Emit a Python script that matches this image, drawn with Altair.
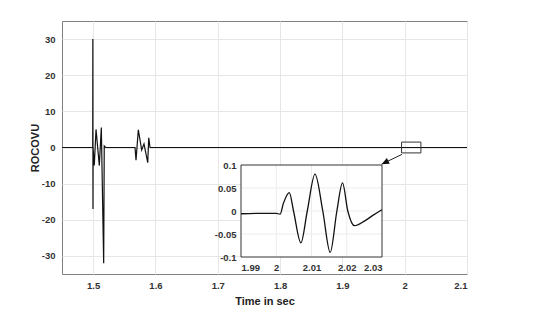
import altair as alt
import pandas as pd

# ---- main signal (ROCOVU vs time) ----
t_main = [1.45, 1.4993, 1.4995, 1.4997, 1.4999, 1.5018, 1.5046, 1.5099, 1.5131, 1.5169, 1.5178,
          1.5200, 1.5672, 1.5688, 1.5725, 1.5779, 1.5816, 1.5876, 1.5892, 1.5913, 2.10]
v_main = [0, 0, 30, -17, 0, -5, 5, -5, 5.5, -32, 0.4,
          0, 0, -3.5, 4.9, -0.7, 1.0, -4.2, 2.7, 0, 0]

x_ticks = [1.5, 1.6, 1.7, 1.8, 1.9, 2.0, 2.1]
y_ticks = [-30, -20, -10, 0, 10, 20, 30]

# zoom box and arrow annotation (main data coordinates)
box_t = [1.995, 2.026]
box_v = [-1.5, 1.5]
arrow_t = [1.9957, 1.963]
arrow_v = [-1.9, -4.6]

# ---- inset (zoom of 1.99 - 2.03 s) ----
t_inset = [1.990, 1.995, 2.0000, 2.0011, 2.0020, 2.0037, 2.0049, 2.0070, 2.0088, 2.0110,
           2.0132, 2.0153, 2.0172, 2.0188, 2.0203, 2.0222, 2.0250, 2.0275, 2.0300]
v_inset = [-0.006, -0.005, -0.005, -0.007, 0.016, 0.040, 0.000, -0.069, 0.000, 0.080,
           0.000, -0.090, 0.000, 0.061, 0.000, -0.032, -0.022, -0.009, 0.003]
inset_xticks = [1.99, 2.0, 2.01, 2.02, 2.03]
inset_yticks = [-0.1, -0.05, 0, 0.05, 0.1]

W, H = 405, 253
FONT = "Liberation Sans"
LBL = "#333333"
ASCII_MINUS = "replace(datum.label, '\u2212', '-')"

main_df = pd.DataFrame({"t": t_main, "v": v_main})
box_df = pd.DataFrame({"t": [box_t[0]], "t2": [box_t[1]], "v": [box_v[0]], "v2": [box_v[1]]})
arrow_df = pd.DataFrame({"t": [arrow_t[0]], "t2": [arrow_t[1]], "v": [arrow_v[0]], "v2": [arrow_v[1]]})
head_df = pd.DataFrame({"t": [arrow_t[1]], "v": [arrow_v[1]]})

xs = alt.Scale(domain=[1.45, 2.1], nice=False, zero=False)
ys = alt.Scale(domain=[-35, 35], nice=False, zero=False)

x_axis = alt.Axis(values=x_ticks, format=".1~f", grid=True, gridColor="#e6e6e6",
                  domain=False, ticks=False, tickSize=0, labelPadding=6,
                  labelFont=FONT, labelFontSize=9.5, labelFontWeight="bold", labelColor=LBL,
                  titleFont=FONT, titleFontSize=11, titleFontWeight="bold", titleColor="#222222",
                  titleY=27, titleBaseline="middle")
y_axis = alt.Axis(values=y_ticks, format="d", labelExpr=ASCII_MINUS, grid=True, gridColor="#e6e6e6",
                  domain=False, ticks=False, tickSize=0, labelPadding=7,
                  labelFont=FONT, labelFontSize=9.5, labelFontWeight="bold", labelColor=LBL,
                  titleFont=FONT, titleFontSize=11, titleFontWeight="bold", titleColor="#222222",
                  titleX=-27, titleY=H / 2, titleBaseline="middle")


def mx(field="t:Q"):
    return alt.X(field, scale=xs, axis=x_axis, title="Time in sec")


def my(field="v:Q"):
    return alt.Y(field, scale=ys, axis=y_axis, title="ROCOVU")


main_line = alt.Chart(main_df).mark_line(color="#111111", strokeWidth=1.2).encode(
    x=mx(), y=my(), order="t:Q",
)
box = alt.Chart(box_df).mark_rect(fillOpacity=0, stroke="#333333", strokeWidth=1).encode(
    x=mx(), x2="t2:Q", y=my(), y2="v2:Q",
)
arrow = alt.Chart(arrow_df).mark_rule(color="#222222", strokeWidth=1).encode(
    x=mx(), x2="t2:Q", y=my(), y2="v2:Q",
)
head = alt.Chart(head_df).mark_point(
    shape="M0,0 L-0.45,1 L0.45,1 Z", angle=244, size=220, filled=True,
    color="#111111", opacity=1, strokeWidth=0,
).encode(x=mx(), y=my())

main_layer = alt.layer(main_line, box, arrow, head)

# inset scales mapped to a sub-rectangle of the plot area
ix = alt.Scale(domain=[1.99, 2.03], range=[179, 320], nice=False, zero=False)
iy = alt.Scale(domain=[-0.1, 0.1], range=[236, 144], nice=False, zero=False)

ix_axis = alt.Axis(orient="bottom", offset=-17, values=inset_xticks, format=".2~f",
                   grid=False, domain=False, ticks=False, tickSize=0, labelPadding=5,
                   labelFont=FONT, labelFontSize=9.5, labelFontWeight="bold", labelColor=LBL)
iy_axis = alt.Axis(orient="left", offset=-179, values=inset_yticks, format=".2~f",
                   labelExpr=ASCII_MINUS,
                   grid=False, domain=False, ticks=False, tickSize=0, labelPadding=5,
                   labelFont=FONT, labelFontSize=9.5, labelFontWeight="bold", labelColor=LBL)


def ixe(field="t:Q"):
    return alt.X(field, scale=ix, axis=ix_axis, title=None)


def iye(field="v:Q"):
    return alt.Y(field, scale=iy, axis=iy_axis, title=None)


inset_df = pd.DataFrame({"t": t_inset, "v": v_inset})
frame_df = pd.DataFrame({"t": [inset_xticks[0]], "t2": [inset_xticks[-1]],
                         "v": [inset_yticks[0]], "v2": [inset_yticks[-1]]})
vgrid_df = pd.DataFrame({"t": inset_xticks[1:-1], "v": [inset_yticks[0]] * 3, "v2": [inset_yticks[-1]] * 3})
hgrid_df = pd.DataFrame({"v": inset_yticks[1:-1], "t": [inset_xticks[0]] * 3, "t2": [inset_xticks[-1]] * 3})

bg = alt.Chart(frame_df).mark_rect(fill="white", strokeWidth=0).encode(
    x=ixe(), x2="t2:Q", y=iye(), y2="v2:Q",
)
vgrid = alt.Chart(vgrid_df).mark_rule(color="#ececec", strokeWidth=1).encode(
    x=ixe(), y=iye(), y2="v2:Q",
)
hgrid = alt.Chart(hgrid_df).mark_rule(color="#ececec", strokeWidth=1).encode(
    y=iye(), x=ixe(), x2="t2:Q",
)
inset_line = alt.Chart(inset_df).mark_line(color="#111111", strokeWidth=1.3, interpolate="monotone").encode(
    x=ixe(), y=iye(), order="t:Q",
)
frame = alt.Chart(frame_df).mark_rect(fillOpacity=0, stroke="#333333", strokeWidth=1).encode(
    x=ixe(), x2="t2:Q", y=iye(), y2="v2:Q",
)

inset_layer = alt.layer(bg, vgrid, hgrid, inset_line, frame)

chart = alt.layer(main_layer, inset_layer).resolve_scale(
    x="independent", y="independent"
).properties(
    width=W, height=H,
    autosize=alt.AutoSizeParams(type="none"),
    padding={"left": 54, "top": 13, "right": 60, "bottom": 40},
    background="white",
).configure_view(stroke="#808080", strokeWidth=1)

chart.save("out.html", embed_options={"renderer": "svg", "actions": False})
